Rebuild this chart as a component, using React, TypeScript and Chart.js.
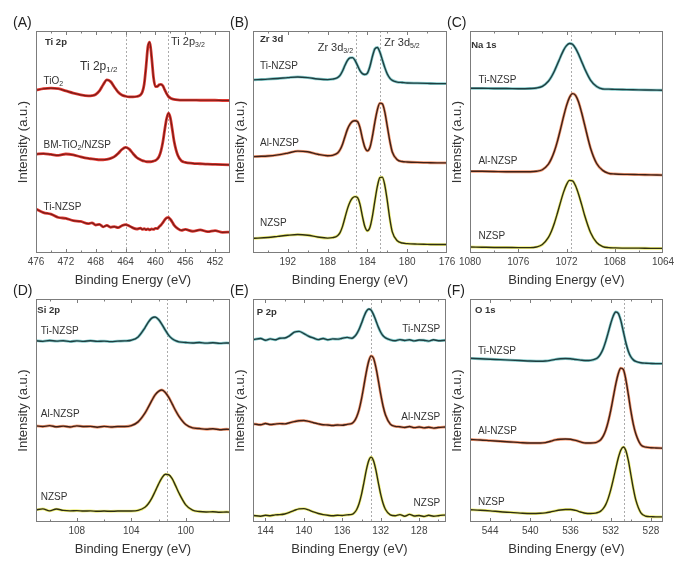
import React, { useEffect, useRef } from "react";
import { Chart, registerables } from "chart.js";

Chart.register(...registerables);

const FONT = "'Liberation Sans', Arial, Helvetica, sans-serif";

// ---------- Panel A : Ti 2p ----------
const energyA = [476, 475, 474, 473, 472, 471, 470, 469, 468.5, 468, 467.5, 467, 466.5, 466, 465.5, 465, 464.5, 464, 463.5, 463, 462.5, 462, 461.75, 461.5, 461.25, 461, 460.75, 460.5, 460.25, 460, 459.75, 459.5, 459.25, 459, 458.75, 458.5, 458.25, 458, 457.75, 457.5, 457, 456.5, 456, 455, 454, 453, 452, 451, 450];
const tio2A = [73.3, 74.0, 74.3, 74.0, 73.0, 72.0, 71.2, 70.8, 70.9, 71.4, 73.0, 75.8, 78.0, 77.2, 74.8, 72.5, 71.2, 70.6, 70.3, 70.3, 70.5, 71.2, 72.5, 76.0, 84.0, 93.0, 95.0, 88.0, 79.0, 75.0, 75.0, 75.8, 76.0, 75.3, 73.5, 71.8, 70.5, 69.8, 69.4, 69.2, 69.0, 68.9, 68.9, 68.9, 68.8, 68.8, 68.8, 68.7, 68.7];
const bmA = [44.5, 44.8, 44.4, 44.0, 44.6, 44.2, 43.3, 42.6, 42.4, 42.2, 42.0, 42.0, 42.2, 42.6, 43.4, 44.8, 46.6, 47.6, 46.8, 44.8, 43.0, 42.0, 41.6, 41.4, 41.2, 41.1, 41.1, 41.2, 41.4, 41.7, 42.3, 43.5, 46.0, 50.0, 55.5, 60.5, 63.0, 61.0, 56.0, 50.5, 44.0, 41.5, 40.8, 40.4, 40.2, 40.0, 39.9, 39.8, 39.7];
const tiNzspA = [19.8, 18.2, 17.5, 16.0, 15.6, 14.6, 14.2, 13.2, 13.6, 12.6, 12.9, 11.8, 12.4, 11.6, 11.9, 11.4, 12.3, 12.8, 12.2, 11.3, 10.8, 11.2, 10.6, 11.0, 10.5, 10.9, 10.4, 10.8, 10.6, 11.1, 11.0, 11.8, 12.6, 13.7, 14.9, 15.8, 16.0, 15.2, 14.0, 12.6, 11.0, 10.2, 10.6, 9.8, 10.4, 9.6, 10.1, 9.3, 9.4];
const ticksA = [476, 472, 468, 464, 460, 456, 452];
const minorA = [474, 470, 466, 462, 458, 454, 450];

// ---------- Panel B : Zr 3d ----------
const energyB = [195.5, 195, 194, 193, 192, 191, 190, 189, 188, 187.5, 187, 186.75, 186.5, 186.25, 186, 185.75, 185.5, 185.25, 185, 184.75, 184.5, 184.25, 184, 183.75, 183.5, 183.25, 183, 182.75, 182.5, 182.25, 182, 181.75, 181.5, 181, 180.5, 180, 179, 178, 177, 176];
const tiB = [78.0, 78.1, 78.3, 78.6, 79.0, 79.3, 79.0, 78.4, 78.1, 78.3, 79.0, 80.0, 82.0, 84.6, 86.8, 87.9, 88.0, 86.8, 84.5, 82.2, 80.8, 80.4, 81.0, 84.0, 88.5, 92.0, 92.6, 90.5, 87.0, 83.5, 80.6, 78.8, 77.8, 77.0, 76.8, 76.6, 76.5, 76.4, 76.3, 76.3];
const alB = [43.4, 43.5, 43.7, 44.2, 45.0, 45.9, 45.6, 44.5, 43.8, 44.0, 45.0, 46.5, 49.0, 52.5, 55.8, 58.0, 59.3, 59.6, 59.2, 56.5, 51.5, 47.5, 46.0, 47.5, 52.5, 59.0, 64.5, 67.5, 67.2, 63.5, 57.0, 50.5, 45.5, 42.0, 41.2, 41.0, 40.8, 40.7, 40.6, 40.6];
const nzspB = [6.6, 6.7, 7.0, 7.5, 8.0, 8.3, 8.0, 7.2, 6.7, 6.9, 7.8, 9.2, 12.0, 16.0, 20.0, 23.0, 24.8, 25.4, 25.0, 22.0, 16.5, 11.8, 10.0, 11.5, 16.5, 23.5, 30.0, 34.0, 34.2, 30.5, 23.5, 15.5, 9.5, 5.5, 4.5, 4.2, 4.0, 3.9, 3.8, 3.8];
const ticksB = [192, 188, 184, 180, 176];
const minorB = [194, 190, 186, 182, 178];

// ---------- Panel C : Na 1s ----------
const energyC = [1080, 1079, 1078, 1077, 1076, 1075, 1074.5, 1074, 1073.5, 1073.25, 1073, 1072.75, 1072.5, 1072.25, 1072, 1071.75, 1071.5, 1071.25, 1071, 1070.75, 1070.5, 1070, 1069.5, 1069, 1068.5, 1068, 1067, 1066, 1065, 1064];
const tiC = [74.2, 74.2, 74.1, 74.1, 74.0, 74.1, 74.3, 75.1, 77.4, 79.4, 82.0, 85.1, 88.3, 91.3, 93.4, 94.4, 94.0, 92.2, 89.5, 86.3, 83.1, 77.8, 75.0, 73.9, 73.8, 73.7, 73.6, 73.5, 73.4, 73.3];
const alC = [36.8, 36.8, 36.7, 36.6, 36.6, 36.6, 36.8, 37.5, 40.0, 42.5, 45.9, 50.4, 55.7, 61.3, 66.4, 70.1, 71.8, 71.0, 68.0, 63.3, 57.8, 47.1, 40.3, 37.2, 35.9, 35.6, 35.4, 35.3, 35.2, 35.1];
const nzspC = [2.7, 2.6, 2.5, 2.5, 2.4, 2.4, 2.7, 3.8, 7.0, 9.8, 13.5, 18.0, 22.8, 27.3, 30.8, 32.7, 32.5, 30.3, 26.5, 21.9, 17.0, 9.1, 4.7, 2.9, 2.4, 2.3, 2.2, 2.2, 2.1, 2.1];
const ticksC = [1080, 1076, 1072, 1068, 1064];
const minorC = [1078, 1074, 1070, 1066];

// ---------- Panel D : Si 2p ----------
const energyD = [111, 110.5, 110, 109.5, 109, 108.5, 108, 107.5, 107, 106.5, 106, 105.5, 105, 104.5, 104, 103.5, 103, 102.75, 102.5, 102.25, 102, 101.75, 101.5, 101.25, 101, 100.75, 100.5, 100, 99.5, 99, 98.5, 98, 97.5, 97, 96.75];
const tiD = [81.3, 81.0, 81.4, 81.1, 81.3, 80.9, 81.2, 81.0, 81.3, 81.0, 81.1, 80.9, 81.1, 81.2, 81.5, 83.0, 87.1, 89.6, 91.4, 91.9, 90.8, 88.6, 86.0, 83.7, 82.2, 81.3, 80.8, 80.5, 80.3, 80.5, 80.2, 80.4, 80.1, 80.3, 80.2];
const alD = [43.1, 42.8, 43.2, 42.7, 43.0, 42.6, 43.1, 42.8, 42.9, 42.5, 42.9, 42.6, 42.8, 42.8, 43.2, 44.9, 48.8, 51.5, 54.4, 57.0, 58.6, 59.2, 58.1, 55.9, 53.0, 50.0, 47.4, 43.7, 42.2, 41.9, 41.6, 41.8, 41.4, 41.6, 41.5];
const nzspD = [5.4, 5.9, 5.0, 5.8, 5.2, 5.0, 5.1, 4.9, 5.0, 4.8, 4.9, 4.8, 4.9, 4.9, 4.9, 5.2, 6.6, 8.2, 10.6, 13.7, 17.0, 19.8, 21.4, 21.2, 19.4, 16.3, 13.0, 7.7, 5.3, 4.7, 4.5, 4.6, 4.4, 4.5, 4.4];
const ticksD = [108, 104, 100];
const minorD = [110, 106, 102, 98];

// ---------- Panel E : P 2p ----------
const energyE = [145.25, 144.5, 144, 143.5, 143, 142.5, 142, 141.5, 141, 140.5, 140, 139.5, 139, 138.5, 138, 137.5, 137, 136.5, 136, 135.5, 135, 134.75, 134.5, 134.25, 134, 133.75, 133.5, 133.25, 133, 132.75, 132.5, 132.25, 132, 131.75, 131.5, 131, 130.5, 130, 129.5, 129, 128.5, 128, 127.5, 127, 126.5, 126, 125.25];
const tiE = [81.8, 82.3, 81.5, 82.1, 81.7, 82.4, 82.5, 83.5, 85.1, 85.5, 84.5, 83.3, 82.5, 81.8, 82.3, 81.7, 82.1, 82.0, 82.4, 82.8, 82.4, 83.1, 84.4, 86.4, 89.1, 92.0, 94.4, 95.5, 95.0, 93.0, 90.3, 87.4, 85.1, 83.5, 82.6, 81.7, 81.3, 81.8, 81.4, 81.7, 81.2, 81.6, 81.5, 81.1, 81.7, 81.3, 81.5];
const alE = [44.0, 43.6, 44.2, 43.7, 43.9, 44.1, 44.0, 44.5, 45.0, 45.4, 45.5, 45.1, 44.5, 44.0, 43.6, 43.5, 43.3, 43.5, 43.4, 43.8, 44.2, 45.2, 47.2, 50.4, 55.2, 61.1, 67.2, 72.1, 74.5, 73.4, 69.3, 63.5, 57.3, 51.9, 48.0, 43.9, 42.9, 42.7, 42.4, 42.8, 42.3, 42.6, 42.2, 42.5, 42.1, 42.4, 42.6];
const nzspE = [2.9, 2.6, 3.0, 2.8, 3.2, 3.3, 3.6, 4.3, 5.2, 5.9, 6.0, 5.4, 4.5, 3.8, 3.3, 3.0, 2.8, 3.0, 2.9, 3.2, 3.4, 4.1, 5.6, 8.3, 12.4, 17.7, 23.3, 27.5, 29.1, 27.5, 23.3, 17.7, 12.4, 8.3, 5.6, 3.2, 2.8, 3.3, 2.6, 3.4, 2.7, 2.9, 2.5, 3.0, 2.6, 2.8, 3.2];
const ticksE = [144, 140, 136, 132, 128];
const minorE = [142, 138, 134, 130, 126];

// ---------- Panel F : O 1s ----------
const energyF = [546, 545, 544, 543, 542, 541, 540, 539, 538.5, 538, 537.5, 537, 536.5, 536, 535.5, 535, 534.5, 534, 533.5, 533.25, 533, 532.75, 532.5, 532.25, 532, 531.75, 531.5, 531.25, 531, 530.75, 530.5, 530.25, 530, 529.75, 529.5, 529, 528.5, 528, 527.5, 526.8];
const tiF = [73.4, 73.2, 73.0, 72.8, 72.6, 72.4, 72.2, 72.1, 72.2, 72.5, 72.9, 73.2, 73.3, 73.2, 72.9, 72.6, 72.4, 72.5, 73.1, 73.9, 75.4, 77.7, 81.0, 84.9, 89.0, 92.4, 94.2, 93.6, 90.4, 85.5, 80.5, 76.6, 74.1, 72.7, 72.0, 71.4, 71.2, 71.1, 71.0, 71.0];
const alF = [37.0, 36.8, 36.5, 36.2, 35.9, 35.6, 35.4, 35.4, 35.6, 36.2, 36.8, 37.1, 37.2, 37.1, 36.6, 35.9, 35.4, 35.4, 35.6, 36.1, 36.9, 38.5, 41.1, 45.0, 50.0, 55.9, 61.8, 66.5, 69.0, 68.4, 64.0, 57.2, 49.9, 43.8, 39.5, 34.6, 33.6, 33.3, 33.2, 33.1];
const nzspF = [5.5, 5.3, 5.0, 4.6, 4.3, 4.0, 3.8, 3.9, 4.1, 4.5, 5.0, 5.4, 5.6, 5.6, 5.2, 4.5, 3.9, 3.8, 4.0, 4.3, 4.9, 6.0, 7.8, 10.6, 14.4, 19.0, 24.0, 28.7, 32.2, 33.6, 32.1, 27.6, 21.3, 15.0, 9.8, 4.1, 2.6, 2.4, 2.3, 2.3];
const ticksF = [544, 540, 536, 532, 528];
const minorF = [546, 542, 538, 534, 530];

// ---------- colours ----------
const RED = { halo: "#e23a33", line: "#7a1c17", lw: 1.2 };
const TEAL = { halo: "#86cccc", line: "#1f3d3f", lw: 1.4 };
const ORANGE = { halo: "#f39b74", line: "#3d2118", lw: 1.4 };
const YELLOW = { halo: "#eeee78", line: "#2e2e14", lw: 1.4 };

type Box = { l: number; t: number; r: number; b: number };
type Series = { values: number[]; color: { halo: string; line: string; lw: number } };
type Label = { x: number; y: number; text: string; bold?: boolean; size?: number; align?: "left" | "right" };
type PanelCfg = {
  tag: string;
  box: Box;
  energies: number[];
  series: Series[];
  xmin: number;
  xmax: number;
  major: number[];
  minor: number[];
  dashed: number[];
  labels: Label[];
};

const labelsA: Label[] = [
  { x: 474.8, y: 94.7, text: "Ti 2p", bold: true, size: 9.5 },
  { x: 470.1, y: 84.1, text: "Ti 2p{1/2}", size: 12 },
  { x: 457.9, y: 95.0, text: "Ti 2p{3/2}", size: 11 },
  { x: 475.0, y: 77.3, text: "TiO{2}" },
  { x: 475.0, y: 48.5, text: "BM-TiO{2}/NZSP" },
  { x: 475.0, y: 20.5, text: "Ti-NZSP" },
];
const labelsB: Label[] = [
  { x: 194.8, y: 96.2, text: "Zr 3d", bold: true, size: 9.5 },
  { x: 189.0, y: 92.5, text: "Zr 3d{3/2}", size: 11 },
  { x: 182.3, y: 94.7, text: "Zr 3d{5/2}", size: 11 },
  { x: 194.8, y: 84.2, text: "Ti-NZSP" },
  { x: 194.8, y: 49.6, text: "Al-NZSP" },
  { x: 194.8, y: 13.5, text: "NZSP" },
];
const labelsC: Label[] = [
  { x: 1079.9, y: 93.4, text: "Na 1s", bold: true, size: 9.5 },
  { x: 1079.3, y: 77.9, text: "Ti-NZSP" },
  { x: 1079.3, y: 41.2, text: "Al-NZSP" },
  { x: 1079.3, y: 7.6, text: "NZSP" },
];
const labelsD: Label[] = [
  { x: 110.9, y: 94.8, text: "Si 2p", bold: true, size: 9.5 },
  { x: 110.65, y: 85.5, text: "Ti-NZSP" },
  { x: 110.65, y: 48.1, text: "Al-NZSP" },
  { x: 110.65, y: 11.1, text: "NZSP" },
];
const labelsE: Label[] = [
  { x: 144.9, y: 94.0, text: "P 2p", bold: true, size: 9.5 },
  { x: 125.8, y: 86.6, text: "Ti-NZSP", align: "right" },
  { x: 125.8, y: 47.0, text: "Al-NZSP", align: "right" },
  { x: 125.8, y: 8.2, text: "NZSP", align: "right" },
];
const labelsF: Label[] = [
  { x: 545.5, y: 94.7, text: "O 1s", bold: true, size: 9.5 },
  { x: 545.2, y: 76.7, text: "Ti-NZSP" },
  { x: 545.2, y: 40.6, text: "Al-NZSP" },
  { x: 545.2, y: 9.0, text: "NZSP" },
];

const panels: PanelCfg[] = [
  {
    tag: "(A)", box: { l: 36, t: 31, r: 230, b: 253 }, energies: energyA,
    series: [{ values: tio2A, color: RED }, { values: bmA, color: RED }, { values: tiNzspA, color: RED }],
    xmin: 450, xmax: 476, major: ticksA, minor: minorA, dashed: [464, 458.3], labels: labelsA,
  },
  {
    tag: "(B)", box: { l: 253, t: 31, r: 447, b: 253 }, energies: energyB,
    series: [{ values: tiB, color: TEAL }, { values: alB, color: ORANGE }, { values: nzspB, color: YELLOW }],
    xmin: 176, xmax: 195.5, major: ticksB, minor: minorB, dashed: [185.15, 182.7], labels: labelsB,
  },
  {
    tag: "(C)", box: { l: 470, t: 31, r: 663, b: 253 }, energies: energyC,
    series: [{ values: tiC, color: TEAL }, { values: alC, color: ORANGE }, { values: nzspC, color: YELLOW }],
    xmin: 1064, xmax: 1080, major: ticksC, minor: minorC, dashed: [1071.6], labels: labelsC,
  },
  {
    tag: "(D)", box: { l: 36, t: 299, r: 230, b: 522 }, energies: energyD,
    series: [{ values: tiD, color: TEAL }, { values: alD, color: ORANGE }, { values: nzspD, color: YELLOW }],
    xmin: 96.75, xmax: 111, major: ticksD, minor: minorD, dashed: [101.4], labels: labelsD,
  },
  {
    tag: "(E)", box: { l: 253, t: 299, r: 446, b: 522 }, energies: energyE,
    series: [{ values: tiE, color: TEAL }, { values: alE, color: ORANGE }, { values: nzspE, color: YELLOW }],
    xmin: 125.2, xmax: 145.3, major: ticksE, minor: minorE, dashed: [133.0], labels: labelsE,
  },
  {
    tag: "(F)", box: { l: 470, t: 299, r: 663, b: 522 }, energies: energyF,
    series: [{ values: tiF, color: TEAL }, { values: alF, color: ORANGE }, { values: nzspF, color: YELLOW }],
    xmin: 526.8, xmax: 546, major: ticksF, minor: minorF, dashed: [530.7], labels: labelsF,
  },
];

// ---------- layout constants ----------
const Y_AXIS_W = 30;
const PAD_TOP = 21;
const PAD_RIGHT = 12;
const X_AXIS_H = 37;

function drawRich(ctx: CanvasRenderingContext2D, text: string, x: number, y: number, size: number, bold: boolean, align: "left" | "right") {
  const parts = text.split(/\{([^}]*)\}/);
  const w = bold ? "bold " : "";
  const main = `${w}${size}px ${FONT}`;
  const sub = `${w}${Math.round(size * 0.68)}px ${FONT}`;
  let total = 0;
  parts.forEach((p, i) => {
    ctx.font = i % 2 ? sub : main;
    total += ctx.measureText(p).width;
  });
  let cx = align === "right" ? x - total : x;
  ctx.textAlign = "left";
  ctx.textBaseline = "middle";
  parts.forEach((p, i) => {
    ctx.font = i % 2 ? sub : main;
    ctx.fillText(p, cx, i % 2 ? y + size * 0.3 : y);
    cx += ctx.measureText(p).width;
  });
}

function makeDecor(cfg: PanelCfg) {
  return {
    id: "decor",
    beforeDatasetsDraw(chart: any) {
      const { ctx, chartArea: a, scales } = chart;
      ctx.save();
      ctx.strokeStyle = "#ababab";
      ctx.lineWidth = 1;
      ctx.setLineDash([2, 2]);
      cfg.dashed.forEach((v) => {
        const px = Math.round(scales.x.getPixelForValue(v)) + 0.5;
        ctx.beginPath();
        ctx.moveTo(px, a.top);
        ctx.lineTo(px, a.bottom);
        ctx.stroke();
      });
      ctx.restore();
    },
    afterDatasetsDraw(chart: any) {
      const { ctx, chartArea: a, scales } = chart;
      ctx.save();
      // frame
      ctx.strokeStyle = "#7c7c7c";
      ctx.lineWidth = 1;
      ctx.strokeRect(Math.round(a.left) + 0.5, Math.round(a.top) + 0.5, Math.round(a.right - a.left) - 1, Math.round(a.bottom - a.top) - 1);
      // inward ticks top & bottom
      const tick = (v: number, len: number) => {
        const px = Math.round(scales.x.getPixelForValue(v)) + 0.5;
        if (px < a.left || px > a.right) return;
        ctx.beginPath();
        ctx.moveTo(px, a.bottom);
        ctx.lineTo(px, a.bottom - len);
        ctx.moveTo(px, a.top);
        ctx.lineTo(px, a.top + len);
        ctx.stroke();
      };
      cfg.major.forEach((v) => tick(v, 4));
      cfg.minor.forEach((v) => tick(v, 2.5));
      // annotations
      ctx.fillStyle = "#333";
      cfg.labels.forEach((l) => {
        drawRich(ctx, l.text, scales.x.getPixelForValue(l.x), scales.y.getPixelForValue(l.y), l.size || 10, !!l.bold, l.align || "left");
      });
      // panel tag
      ctx.fillStyle = "#222";
      ctx.font = `14px ${FONT}`;
      ctx.textAlign = "left";
      ctx.textBaseline = "middle";
      ctx.fillText(cfg.tag, 7, 13);
      ctx.restore();
    },
  };
}

function Panel({ cfg }: { cfg: PanelCfg }) {
  const ref = useRef<HTMLCanvasElement>(null);
  const left = cfg.box.l - Y_AXIS_W;
  const top = cfg.box.t - PAD_TOP;
  const width = cfg.box.r - cfg.box.l + Y_AXIS_W + PAD_RIGHT;
  const height = cfg.box.b - cfg.box.t + PAD_TOP + X_AXIS_H;

  useEffect(() => {
    if (!ref.current) return;
    const datasets: any[] = [];
    cfg.series.forEach((s) => {
      const data = cfg.energies.map((e, i) => ({ x: e, y: s.values[i] }));
      datasets.push({
        data,
        borderColor: s.color.line,
        borderWidth: s.color.lw,
        pointRadius: 0,
        cubicInterpolationMode: "monotone",
        order: 1,
      });
      datasets.push({
        data,
        borderColor: s.color.halo,
        borderWidth: 2.8,
        pointRadius: 0,
        cubicInterpolationMode: "monotone",
        order: 2,
      });
    });
    const chart = new Chart(ref.current, {
      type: "line",
      data: { datasets },
      plugins: [makeDecor(cfg) as any],
      options: {
        animation: false,
        responsive: false,
        maintainAspectRatio: false,
        events: [],
        layout: { padding: { left: 0, top: PAD_TOP, right: PAD_RIGHT, bottom: 0 } },
        plugins: { legend: { display: false }, tooltip: { enabled: false } },
        scales: {
          x: {
            type: "linear",
            reverse: true,
            min: cfg.xmin,
            max: cfg.xmax,
            afterBuildTicks: (s: any) => {
              s.ticks = cfg.major.map((v) => ({ value: v }));
            },
            afterFit: (s: any) => {
              s.height = X_AXIS_H;
              s.paddingLeft = 0;
              s.paddingRight = 0;
            },
            ticks: {
              autoSkip: false,
              maxRotation: 0,
              padding: 3,
              color: "#444",
              font: { size: 10, family: FONT },
              callback: (v: any) => String(v),
            },
            grid: { display: false, drawTicks: false },
            border: { display: false },
            title: {
              display: true,
              text: "Binding Energy (eV)",
              color: "#333",
              font: { size: 13, family: FONT },
              padding: { top: 0, bottom: 2 },
            },
          },
          y: {
            type: "linear",
            min: 0,
            max: 100,
            afterFit: (s: any) => {
              s.width = Y_AXIS_W;
              s.paddingTop = 0;
              s.paddingBottom = 0;
            },
            ticks: { display: false },
            grid: { display: false, drawTicks: false },
            border: { display: false },
            title: {
              display: true,
              text: "Intensity (a.u.)",
              color: "#333",
              font: { size: 13, family: FONT },
              padding: { top: 10, bottom: 0 },
            },
          },
        },
      } as any,
    });
    return () => chart.destroy();
  }, [cfg]);

  return (
    <canvas
      ref={ref}
      width={width}
      height={height}
      style={{ position: "absolute", left, top, width, height }}
    />
  );
}

export default function App() {
  return (
    <div style={{ position: "absolute", left: 0, top: 0, width: 676, height: 562, background: "#fff", overflow: "hidden" }}>
      {panels.map((p) => (
        <Panel key={p.tag} cfg={p} />
      ))}
    </div>
  );
}
